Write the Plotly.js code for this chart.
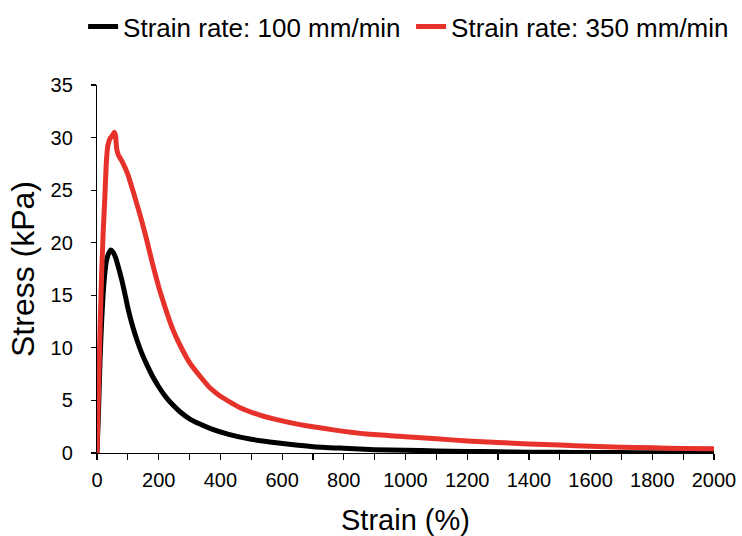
<!DOCTYPE html>
<html>
<head>
<meta charset="utf-8">
<script src="https://cdn.plot.ly/plotly-3.0.1.min.js"></script>
<style>html,body{margin:0;padding:0;background:#fff;}#chart{width:742px;height:536px;}</style>
</head>
<body>
<div id="chart"></div>
<script>
// Strain (%) and stress (kPa)
const strain100 = [0, 5, 10, 15, 20, 25, 30, 38, 45, 52, 60, 70, 80, 90, 100, 115, 130, 145, 160, 180, 200, 220, 240, 270, 300, 330, 370, 430, 500, 560, 630, 700, 800, 900, 1000, 1100, 1200, 1300, 1400, 1500, 1600, 1700, 1800, 1900, 2000];
const stress100 = [0, 4, 9, 12.5, 15.2, 17, 18.2, 19.0, 19.3, 19.1, 18.6, 17.6, 16.5, 15.2, 13.8, 12.1, 10.7, 9.5, 8.5, 7.3, 6.3, 5.45, 4.75, 3.9, 3.25, 2.8, 2.3, 1.75, 1.3, 1.05, 0.8, 0.6, 0.45, 0.32, 0.26, 0.2, 0.15, 0.12, 0.08, 0.06, 0.05, 0.04, 0.03, 0.03, 0.02];

const strain350 = [0, 5, 10, 15, 20, 25, 30, 35, 42, 50, 56, 60, 64, 70, 80, 100, 120, 140, 160, 180, 200, 220, 245, 270, 300, 334, 366, 400, 464, 528, 593, 658, 700, 766, 874, 980, 1000, 1100, 1200, 1300, 1400, 1500, 1600, 1700, 1800, 1900, 2000];
const stress350 = [0, 6, 12, 17, 21, 24, 27.5, 29.2, 29.9, 30.2, 30.5, 30.2, 28.9, 28.3, 27.8, 26.5, 24.6, 22.6, 20.4, 18.0, 15.8, 13.9, 11.8, 10.2, 8.6, 7.3, 6.2, 5.4, 4.3, 3.6, 3.1, 2.7, 2.5, 2.2, 1.8, 1.6, 1.55, 1.35, 1.15, 1.0, 0.85, 0.75, 0.65, 0.55, 0.5, 0.42, 0.4];

const seriesNames = ['Strain rate: 100 mm/min', 'Strain rate: 350 mm/min'];
const xTitle = 'Strain (%)';
const yTitle = 'Stress (kPa)';

const FONT = 'Liberation Sans, Arial, Helvetica, sans-serif';

const traces = [
  {x: strain100, y: stress100, name: seriesNames[0], mode: 'lines', type: 'scatter', legend: 'legend',
   line: {color: '#000000', width: 5, shape: 'spline', smoothing: 0.5}},
  {x: strain350, y: stress350, name: seriesNames[1], mode: 'lines', type: 'scatter', legend: 'legend2',
   line: {color: '#e6322a', width: 5, shape: 'spline', smoothing: 0.4}}
];

const legendBase = {orientation: 'h', xref: 'container', yref: 'container', xanchor: 'left', y: 0.994, yanchor: 'top',
  font: {family: FONT, size: 26, color: '#000'}, bgcolor: 'rgba(0,0,0,0)', itemwidth: 30};

const layout = {
  width: 742, height: 536,
  margin: {l: 97, r: 28, t: 85, b: 83},
  paper_bgcolor: '#ffffff', plot_bgcolor: '#ffffff',
  font: {family: FONT, color: '#000000', size: 20},
  showlegend: true,
  legend: Object.assign({}, legendBase, {x: 0.112}),
  legend2: Object.assign({}, legendBase, {x: 0.554}),
  xaxis: {
    range: [0, 2000], dtick: 200, tick0: 0, automargin: false,
    showgrid: false, zeroline: false, showline: true, linecolor: '#000', linewidth: 1.2,
    ticks: 'outside', ticklen: 6, tickwidth: 1.2, tickcolor: '#000',
    minor: {dtick: 100, ticks: 'outside', ticklen: 6, tickwidth: 1.2, tickcolor: '#000', showgrid: false},
    tickfont: {family: FONT, size: 20, color: '#000'}, ticklabelstandoff: 3,
    title: {text: xTitle, font: {family: FONT, size: 29, color: '#000'}, standoff: 20}
  },
  yaxis: {
    range: [0, 35], dtick: 5, tick0: 0, automargin: false,
    showgrid: false, zeroline: false, showline: true, linecolor: '#000', linewidth: 1.2,
    ticks: 'outside', ticklen: 5, tickwidth: 1.2, tickcolor: '#000',
    tickfont: {family: FONT, size: 20, color: '#000'}, ticklabelstandoff: 14,
    title: {text: yTitle, font: {family: FONT, size: 32, color: '#000'}, standoff: 6}
  }
};

Plotly.newPlot('chart', traces, layout, {displayModeBar: false, staticPlot: true});
</script>
</body>
</html>
